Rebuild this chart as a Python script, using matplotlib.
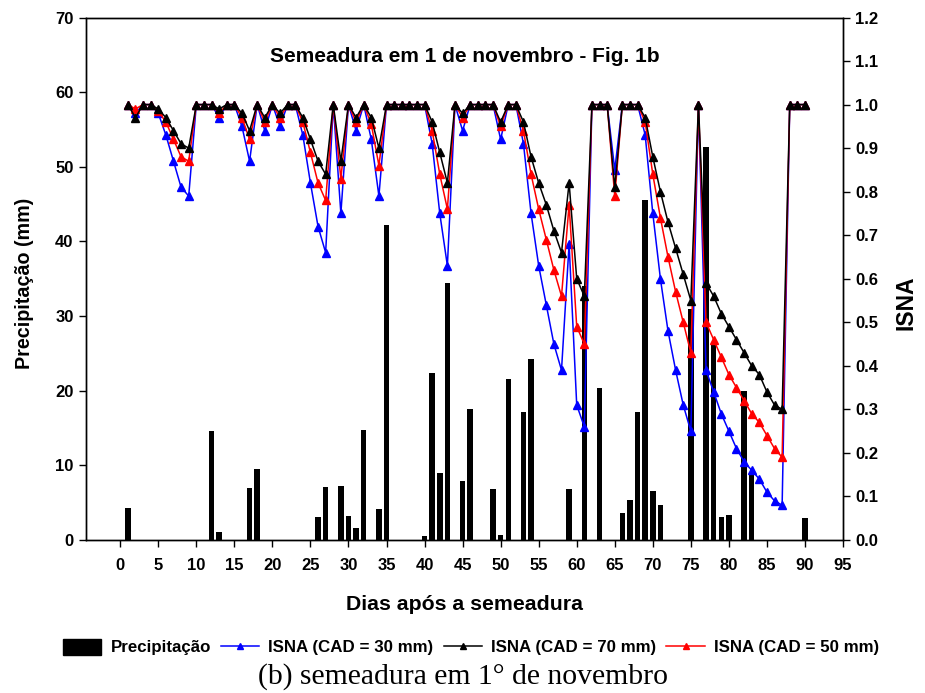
import matplotlib
matplotlib.use("Agg")
import matplotlib.pyplot as plt
from matplotlib.patches import Patch
from matplotlib.lines import Line2D
import numpy as np

# ---------------- data ----------------
days = list(range(1, 91))

precip_days = [1, 12, 13, 17, 18, 26, 27, 29, 30, 31, 32, 34, 35, 40, 41, 42, 43, 45, 46,
               49, 50, 51, 53, 54, 59, 61, 63, 66, 67, 68, 69, 70, 71, 75, 77, 78, 79, 80,
               82, 83, 90]
precip_vals = [4.3, 14.6, 1.1, 7.0, 9.5, 3.1, 7.1, 7.3, 3.2, 1.6, 14.7, 4.1, 42.2, 0.6, 22.4,
               9.0, 34.4, 7.9, 17.6, 6.8, 0.7, 21.6, 17.1, 24.3, 6.8, 34.0, 20.4, 3.6, 5.4,
               17.1, 45.5, 6.6, 4.7, 31.0, 52.6, 26.3, 3.1, 3.4, 19.9, 8.7, 2.9]

isna_30 = [1.0, 0.98, 1.0, 1.0, 0.98, 0.93, 0.87, 0.81, 0.79, 1.0,
           1.0, 1.0, 0.97, 1.0, 1.0, 0.95, 0.87, 1.0, 0.94, 1.0,
           0.95, 1.0, 1.0, 0.93, 0.82, 0.72, 0.66, 1.0, 0.75, 1.0,
           0.94, 1.0, 0.92, 0.79, 1.0, 1.0, 1.0, 1.0, 1.0, 1.0,
           0.91, 0.75, 0.63, 1.0, 0.94, 1.0, 1.0, 1.0, 1.0, 0.92,
           1.0, 1.0, 0.91, 0.75, 0.63, 0.54, 0.45, 0.39, 0.68, 0.31,
           0.26, 1.0, 1.0, 1.0, 0.85, 1.0, 1.0, 1.0, 0.93, 0.75,
           0.60, 0.48, 0.39, 0.31, 0.25, 1.0, 0.39, 0.34, 0.29, 0.25,
           0.21, 0.18, 0.16, 0.14, 0.11, 0.09, 0.08, 1.0, 1.0, 1.0]

isna_50 = [1.0, 0.99, 1.0, 1.0, 0.985, 0.96, 0.92, 0.88, 0.87, 1.0,
           1.0, 1.0, 0.98, 1.0, 1.0, 0.97, 0.92, 1.0, 0.96, 1.0,
           0.97, 1.0, 1.0, 0.96, 0.89, 0.82, 0.78, 1.0, 0.83, 1.0,
           0.96, 1.0, 0.955, 0.86, 1.0, 1.0, 1.0, 1.0, 1.0, 1.0,
           0.94, 0.84, 0.76, 1.0, 0.97, 1.0, 1.0, 1.0, 1.0, 0.95,
           1.0, 1.0, 0.94, 0.84, 0.76, 0.69, 0.62, 0.56, 0.77, 0.49,
           0.45, 1.0, 1.0, 1.0, 0.79, 1.0, 1.0, 1.0, 0.96, 0.84,
           0.74, 0.65, 0.57, 0.50, 0.43, 1.0, 0.50, 0.46, 0.42, 0.38,
           0.35, 0.32, 0.29, 0.27, 0.24, 0.21, 0.19, 1.0, 1.0, 1.0]

isna_70 = [1.0, 0.97, 1.0, 1.0, 0.99, 0.97, 0.94, 0.91, 0.90, 1.0,
           1.0, 1.0, 0.99, 1.0, 1.0, 0.98, 0.94, 1.0, 0.97, 1.0,
           0.98, 1.0, 1.0, 0.97, 0.92, 0.87, 0.84, 1.0, 0.87, 1.0,
           0.97, 1.0, 0.97, 0.90, 1.0, 1.0, 1.0, 1.0, 1.0, 1.0,
           0.96, 0.89, 0.82, 1.0, 0.98, 1.0, 1.0, 1.0, 1.0, 0.96,
           1.0, 1.0, 0.96, 0.88, 0.82, 0.77, 0.71, 0.66, 0.82, 0.60,
           0.56, 1.0, 1.0, 1.0, 0.81, 1.0, 1.0, 1.0, 0.97, 0.88,
           0.80, 0.73, 0.67, 0.61, 0.55, 1.0, 0.59, 0.56, 0.52, 0.49,
           0.46, 0.43, 0.40, 0.38, 0.34, 0.31, 0.30, 1.0, 1.0, 1.0]

x_ticks = list(range(0, 100, 5))
y_left_ticks = list(range(0, 80, 10))
y_right_ticks = [round(0.1 * i, 1) for i in range(13)]

title_text = "Semeadura em 1 de novembro - Fig. 1b"
xlabel_text = "Dias após a semeadura"
ylabel_left = "Precipitação (mm)"
ylabel_right = "ISNA"
caption_text = "(b) semeadura em 1° de novembro"
legend_labels = ["Precipitação", "ISNA (CAD = 30 mm)", "ISNA (CAD = 70 mm)", "ISNA (CAD = 50 mm)"]

# ---------------- figure ----------------
plt.rcParams['font.family'] = ['Liberation Sans', 'DejaVu Sans']
plt.rcParams['font.weight'] = 'bold'

W, H = 925, 693
fig = plt.figure(figsize=(W / 100, H / 100), dpi=100)
L, R, T, B = 86, 843, 17.5, 540
ax = fig.add_axes([L / W, 1 - B / H, (R - L) / W, (B - T) / H])
ax2 = ax.twinx()

ax.bar(precip_days, precip_vals, width=0.72, color='black', zorder=2)

ms = 5.5
lw = 1.1
ax2.plot(days, isna_30, color='blue', marker='^', ms=ms, lw=lw, zorder=3)
ax2.plot(days, isna_50, color='red', marker='^', ms=ms, lw=lw, zorder=4)
ax2.plot(days, isna_70, color='black', marker='^', ms=ms, lw=lw, zorder=5)

ax.set_xlim(-4.5, 95)
ax.set_ylim(0, 70)
ax2.set_ylim(0, 1.2)

ax.set_xticks(x_ticks)
ax.set_yticks(y_left_ticks)
ax2.set_yticks(y_right_ticks)
ax2.set_yticklabels([f"{v:.1f}" for v in y_right_ticks])

tick_fs = 12
for a in (ax, ax2):
    a.tick_params(direction='out', length=5, width=1, labelsize=tick_fs, pad=4)
    for s in a.spines.values():
        s.set_linewidth(1.0)
for lab in ax.get_xticklabels() + ax.get_yticklabels() + ax2.get_yticklabels():
    lab.set_fontweight('bold')
ax.tick_params(axis='x', pad=8)

ax.text(0.5, 0.926, title_text, transform=ax.transAxes, ha='center', va='center',
        fontsize=15, fontweight='bold')

fig.text(465 / W, 1 - 605 / H, xlabel_text, ha='center', va='center', fontsize=15.3, fontweight='bold')
fig.text(25 / W, 1 - 283 / H, ylabel_left, ha='center', va='center', rotation=90,
         fontsize=14.2, fontweight='bold')
fig.text(906 / W, 1 - 303 / H, ylabel_right, ha='center', va='center', rotation=90,
         fontsize=16.5, fontweight='bold')

handles = [Patch(facecolor='black', edgecolor='black'),
           Line2D([], [], color='blue', marker='^', ms=4, lw=1.1),
           Line2D([], [], color='black', marker='^', ms=4, lw=1.1),
           Line2D([], [], color='red', marker='^', ms=4, lw=1.1)]
fig.legend(handles, legend_labels, loc='center', bbox_to_anchor=(471 / W, 1 - 647 / H), ncol=4,
           frameon=False, handlelength=2.25, handleheight=1.1, handletextpad=0.55,
           columnspacing=0.6, borderpad=0.2, prop={'weight': 'bold', 'size': 12.2})

fig.text(463 / W, 1 - 677 / H, caption_text, ha='center', va='center', fontsize=21.3,
         family=['Liberation Serif', 'DejaVu Serif'], fontweight='normal')

fig.savefig("out.png", dpi=100)
